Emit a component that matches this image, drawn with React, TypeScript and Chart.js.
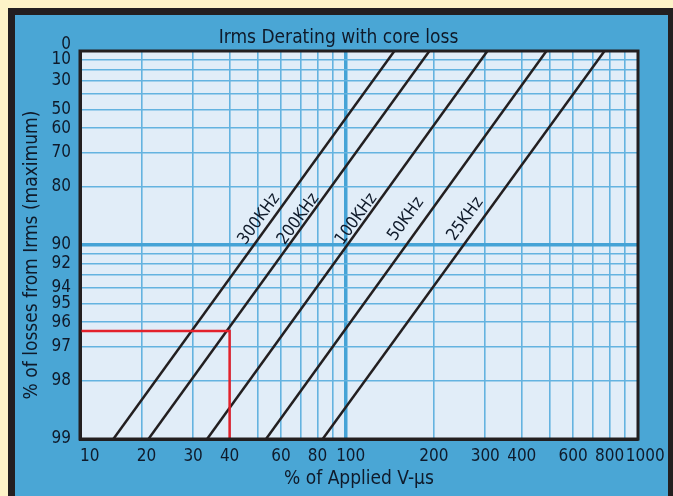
import React, { useEffect, useRef } from 'react';
import { Chart, registerables } from 'chart.js';

Chart.register(...registerables);

// ---------- text ----------
const TITLE = 'Irms Derating with core loss';
const X_TITLE = '% of Applied V-\u00b5s';
const Y_TITLE = '% of losses from Irms (maximum)';

// ---------- data ----------
const FREQ_LABELS = ['300KHz', '200KHz', '100KHz', '50KHz', '25KHz'];
// % of applied V-µs where each line meets 99 % (bottom) and 0 % (top)
const X_AT_99 = [16.0, 21.1, 33.5, 53.3, 83.3];
const X_AT_0 = [146.6, 193.2, 305.2, 486, 768];
// where each line's caption sits
const LABEL_X = [50.5, 68.8, 108.6, 160.6, 256.6];
const LABEL_PCT = [86.4, 86.4, 86.4, 86.4, 86.4];

// red example path
const RED_X = [12.3, 40, 40];
const RED_PCT = [96.4, 96.4, 99];

// axes
const X_MIN = 12.3;
const X_MAX = 1000;
const X_TICKS = [12.3, 20, 30, 40, 50, 60, 70, 80, 90, 100, 200, 300, 400, 500, 600, 700, 800, 900, 1000];
const X_TICK_LABELS = ['    10', '  20', '30', '40', '', '60', '', '80', '', '  100', '200', '300', '400', '', '600', '', '800', '', '   1000'];
const Y_TICKS_PCT = [0, 10, 20, 30, 40, 50, 60, 70, 80, 90, 91, 92, 93, 94, 95, 96, 97, 98, 99];
const Y_TICK_LABELS: (string | string[])[] = [['0', ''], '10', '', '30', '', '50', '60', '70', '80', '90', '', '92', '', '94', '95', '96', '97', '98', '99'];

// ---------- style ----------
const FONT = '"Liberation Sans Narrow", "DejaVu Sans Condensed", "Roboto Condensed", "Liberation Sans", sans-serif';
const YELLOW = '#fdf3c8';
const DARK = '#231f20';
const BLUE = '#4aa6d5';
const PLOT_BG = '#e1edf8';
const GRID = '#64b3e0';
const GRID_MAJOR = '#45a3d6';
const TEXT = '#0f1a2a';
const RED = '#e3212b';

const W = 653;
const H = 481;

const decor = {
  id: 'decor',
  beforeDraw(chart: any) {
    const { ctx, chartArea: a } = chart;
    ctx.save();
    ctx.fillStyle = PLOT_BG;
    ctx.fillRect(a.left, a.top, a.right - a.left, a.bottom - a.top);
    ctx.restore();
  },
  afterDatasetsDraw(chart: any) {
    const { ctx, chartArea: a, scales } = chart;
    const x = scales.x;
    const y = scales.y;
    ctx.save();
    ctx.strokeStyle = DARK;
    ctx.lineWidth = 3;
    ctx.strokeRect(a.left, a.top, a.right - a.left, a.bottom - a.top);

    ctx.fillStyle = TEXT;
    ctx.textAlign = 'center';
    ctx.textBaseline = 'middle';
    ctx.font = `17px ${FONT}`;
    FREQ_LABELS.forEach((lab, i) => {
      const px = x.getPixelForValue(LABEL_X[i]);
      const py = y.getPixelForValue(100 - LABEL_PCT[i]);
      const ang = Math.atan2(
        y.getPixelForValue(100) - y.getPixelForValue(1),
        x.getPixelForValue(X_AT_0[i]) - x.getPixelForValue(X_AT_99[i])
      );
      ctx.save();
      ctx.translate(px, py);
      ctx.rotate(ang);
      ctx.fillText(lab, 0, 0);
      ctx.restore();
    });

    // chart title
    ctx.font = `19px ${FONT}`;
    ctx.textBaseline = 'alphabetic';
    ctx.fillText(TITLE, 323.5, 27.5);

    // y axis title
    ctx.save();
    ctx.translate(17, 240);
    ctx.rotate(-Math.PI / 2);
    ctx.font = `19px ${FONT}`;
    ctx.textBaseline = 'middle';
    ctx.fillText(Y_TITLE, 0, 0);
    ctx.restore();
    ctx.restore();
  },
};

export default function App() {
  const ref = useRef<HTMLCanvasElement | null>(null);

  useEffect(() => {
    if (!ref.current) return;
    const lines = FREQ_LABELS.map((lab, i) => ({
      label: lab,
      data: [
        { x: X_AT_99[i], y: 100 - 99 },
        { x: X_AT_0[i], y: 100 - 0 },
      ],
      borderColor: DARK,
      borderWidth: 2.5,
      pointRadius: 0,
      showLine: true,
      fill: false,
    }));
    const red = {
      label: 'example',
      data: RED_X.map((v, i) => ({ x: v, y: 100 - RED_PCT[i] })),
      borderColor: RED,
      borderWidth: 2.5,
      pointRadius: 0,
      showLine: true,
      fill: false,
    };

    const chart = new Chart(ref.current, {
      type: 'scatter',
      data: { datasets: [red, ...lines] as any },
      options: {
        responsive: false,
        animation: false,
        devicePixelRatio: 1,
        layout: { padding: { top: 36, right: 30, left: 0, bottom: 0 } },
        plugins: { legend: { display: false }, tooltip: { enabled: false }, title: { display: false } },
        scales: {
          x: {
            type: 'logarithmic',
            min: X_MIN,
            max: X_MAX,
            afterBuildTicks: (s: any) => {
              s.ticks = X_TICKS.map((v) => ({ value: v }));
            },
            afterFit: (s: any) => {
              s.height = 57;
              s.paddingLeft = 0;
              s.paddingRight = 0;
            },
            grid: {
              drawTicks: false,
              color: (c: any) => (c.tick && c.tick.value === 100 ? GRID_MAJOR : GRID),
              lineWidth: (c: any) => (c.tick && c.tick.value === 100 ? 3.5 : 1.6),
            },
            border: { display: true, color: DARK, width: 3 },
            ticks: {
              autoSkip: false,
              maxRotation: 0,
              minRotation: 0,
              padding: 7,
              color: TEXT,
              font: { family: FONT, size: 17 },
              callback: (_v: any, idx: number) => X_TICK_LABELS[idx] ?? '',
            },
            title: {
              display: true,
              text: X_TITLE,
              color: TEXT,
              font: { family: FONT, size: 19 },
              padding: { top: 0, bottom: 6 },
            },
          },
          y: {
            type: 'logarithmic',
            min: 1,
            max: 100,
            afterBuildTicks: (s: any) => {
              s.ticks = Y_TICKS_PCT.map((p) => ({ value: 100 - p }));
            },
            afterFit: (s: any) => {
              s.width = 65;
              s.paddingTop = 0;
              s.paddingBottom = 0;
            },
            grid: {
              drawTicks: false,
              color: (c: any) => (c.tick && c.tick.value === 10 ? GRID_MAJOR : GRID),
              lineWidth: (c: any) => (c.tick && c.tick.value === 10 ? 3.5 : 1.6),
            },
            border: { display: true, color: DARK, width: 3 },
            ticks: {
              autoSkip: false,
              padding: 9,
              color: TEXT,
              font: { family: FONT, size: 17, lineHeight: 0.75 },
              callback: (_v: any, idx: number) => Y_TICK_LABELS[idx] ?? '',
            },
          },
        },
      },
      plugins: [decor],
    });
    return () => chart.destroy();
  }, []);

  return (
    <div style={{ position: 'fixed', left: 0, top: 0, right: 0, bottom: 0, background: YELLOW, overflow: 'hidden' }}>
      <div style={{ position: 'absolute', left: 8, top: 8, width: 665, height: 488, background: DARK }} />
      <div style={{ position: 'absolute', left: 15, top: 15, width: W, height: H, background: BLUE }}>
        <canvas ref={ref} width={W} height={H} style={{ display: 'block', width: W, height: H }} />
      </div>
    </div>
  );
}
